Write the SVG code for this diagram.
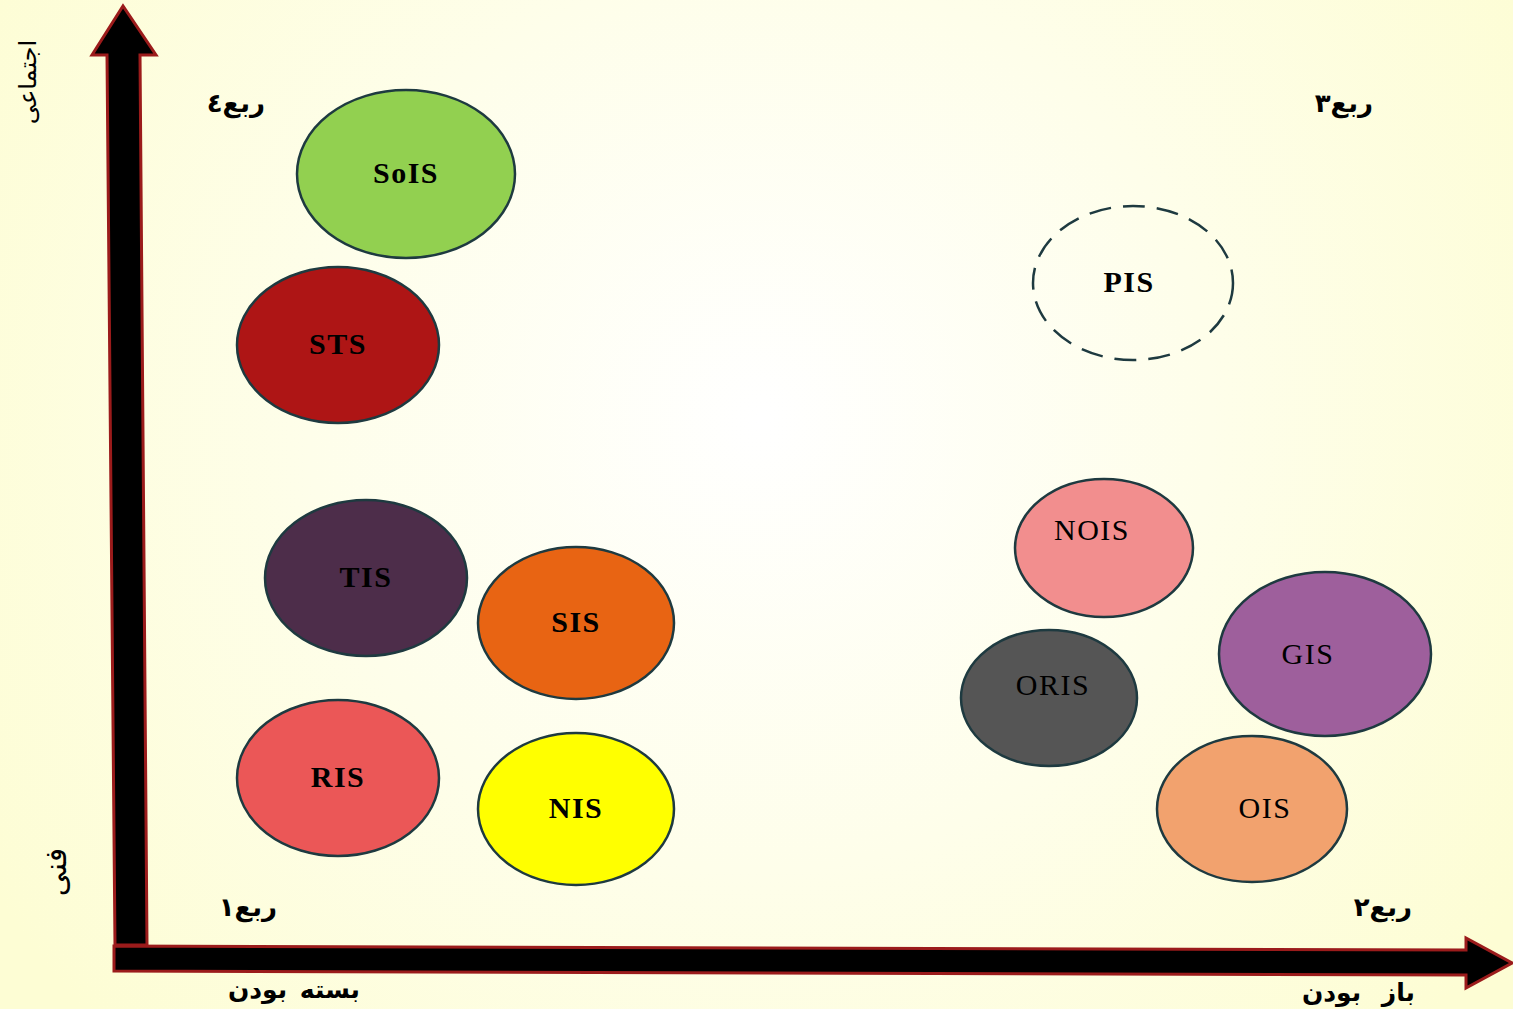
<svg xmlns="http://www.w3.org/2000/svg" width="1513" height="1009" viewBox="0 0 1513 1009">
  <defs>
    <radialGradient id="bg" cx="760" cy="420" r="900" gradientUnits="userSpaceOnUse">
      <stop offset="0" stop-color="#FFFFFF"/>
      <stop offset="0.5" stop-color="#FEFEEA"/>
      <stop offset="1" stop-color="#FDFDD4"/>
    </radialGradient>
    <style>
      .axis { fill: #000000; stroke: #9B1B1B; stroke-width: 3; stroke-linejoin: miter; }
      .node { stroke: #1E3A40; stroke-width: 2.5; }
      .dash { fill: none; stroke: #1E3A40; stroke-width: 2.5; stroke-dasharray: 22 12; }
      .lb { font-family: "Liberation Serif", "Times New Roman", serif; font-weight: bold; font-size: 30px; fill: #000; text-anchor: middle; dominant-baseline: central; letter-spacing: 1.5px; }
      .lr { font-family: "Liberation Serif", "Times New Roman", serif; font-size: 30px; fill: #000; text-anchor: middle; dominant-baseline: central; letter-spacing: 1.5px; }
      .fa { font-family: "DejaVu Sans", "Noto Sans", sans-serif; fill: #000; direction: rtl; }
      .q { font-size: 26px; font-weight: bold; }
      .ax { font-size: 25px; font-weight: bold; }
    </style>
  </defs>

  <rect x="0" y="0" width="1513" height="1009" fill="url(#bg)"/>

  <!-- axes -->
  <g id="connectors">
    <polygon class="axis" points="107,55 92,55 123,6 156,55 140,55 147,945 115,945"/>
    <polygon class="axis" points="114,946 1466,950 1466,938 1512,963 1466,988 1466,975 114,971"/>
  </g>

  <!-- axis titles -->
  <text class="fa" font-size="24" transform="translate(36,82) rotate(-90)" text-anchor="middle">اجتماعی</text>
  <text class="fa" font-size="30" transform="translate(66,872) rotate(-90)" text-anchor="middle">فنی</text>
  <text class="fa ax" x="360" y="998" word-spacing="4">بسته بودن</text>
  <text class="fa ax" x="1415" y="1001" word-spacing="12">باز بودن</text>

  <!-- quadrant labels -->
  <text class="fa q" x="265" y="112">ربع٤</text>
  <text class="fa q" x="1373" y="112">ربع٣</text>
  <text class="fa q" x="277" y="916">ربع١</text>
  <text class="fa q" x="1412" y="916">ربع٢</text>

  <!-- nodes -->
  <g id="SoIS">
    <ellipse class="node" cx="406" cy="174" rx="109" ry="84" fill="#92D050"/>
    <text class="lb" x="406" y="172">SoIS</text>
  </g>
  <g id="STS">
    <ellipse class="node" cx="338" cy="345" rx="101" ry="78" fill="#AE1515"/>
    <text class="lb" x="338" y="343">STS</text>
  </g>
  <g id="TIS">
    <ellipse class="node" cx="366" cy="578" rx="101" ry="78" fill="#4D2D4A"/>
    <text class="lb" x="366" y="576">TIS</text>
  </g>
  <g id="SIS">
    <ellipse class="node" cx="576" cy="623" rx="98" ry="76" fill="#E86413"/>
    <text class="lb" x="576" y="621">SIS</text>
  </g>
  <g id="RIS">
    <ellipse class="node" cx="338" cy="778" rx="101" ry="78" fill="#EB5757"/>
    <text class="lb" x="338" y="776">RIS</text>
  </g>
  <g id="NIS">
    <ellipse class="node" cx="576" cy="809" rx="98" ry="76" fill="#FFFF00"/>
    <text class="lb" x="576" y="807">NIS</text>
  </g>
  <g id="PIS">
    <ellipse class="dash" cx="1133" cy="283" rx="100" ry="77"/>
    <text class="lb" x="1129" y="281">PIS</text>
  </g>
  <g id="NOIS">
    <ellipse class="node" cx="1104" cy="548" rx="89" ry="69" fill="#F28E8E"/>
    <text class="lr" x="1092" y="529">NOIS</text>
  </g>
  <g id="ORIS">
    <ellipse class="node" cx="1049" cy="698" rx="88" ry="68" fill="#555555"/>
    <text class="lr" x="1053" y="684">ORIS</text>
  </g>
  <g id="GIS">
    <ellipse class="node" cx="1325" cy="654" rx="106" ry="82" fill="#9E5F9C"/>
    <text class="lr" x="1308" y="653">GIS</text>
  </g>
  <g id="OIS">
    <ellipse class="node" cx="1252" cy="809" rx="95" ry="73" fill="#F2A26E"/>
    <text class="lr" x="1265" y="807">OIS</text>
  </g>
</svg>
